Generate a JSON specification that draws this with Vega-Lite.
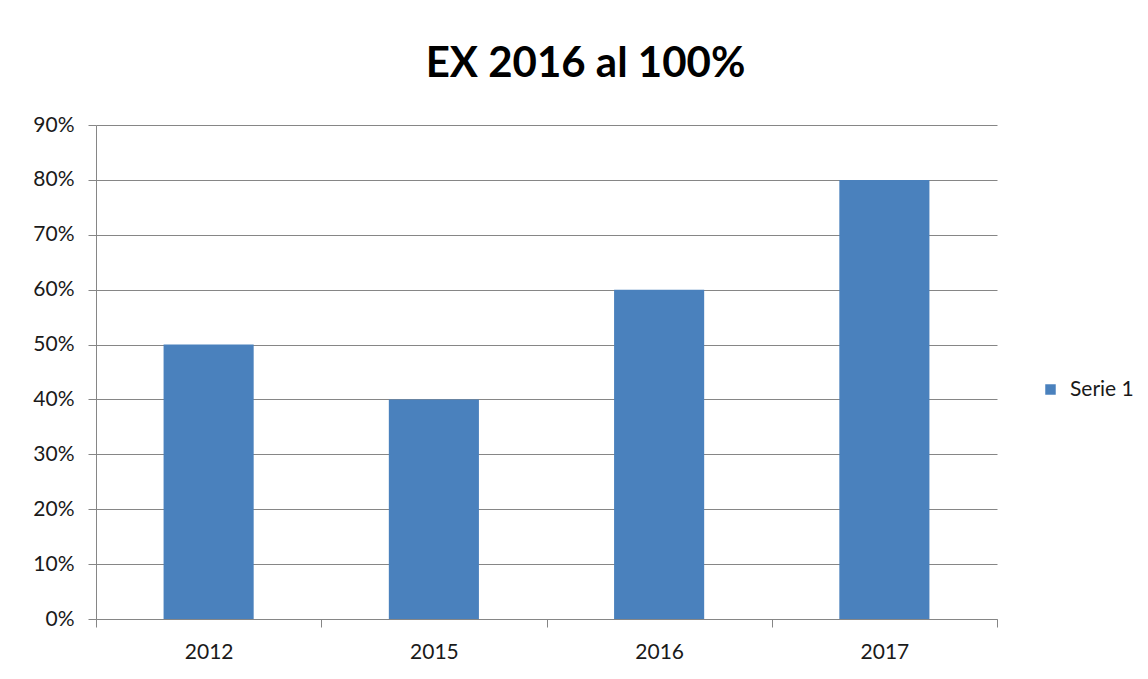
{
  "$schema": "https://vega.github.io/schema/vega-lite/v6.json",
  "width": 901,
  "height": 494,
  "autosize": {"type": "none"},
  "padding": {"left": 96, "top": 125, "right": 151, "bottom": 60},
  "background": "white",
  "title": {
    "text": "EX 2016 al 100%",
    "font": "Lato",
    "fontSize": 42,
    "fontWeight": "bold",
    "color": "black",
    "anchor": "middle",
    "dx": 39,
    "offset": 28
  },
  "data": {
    "values": [
      {"year": "2012", "value": 0.5, "series": "Serie 1"},
      {"year": "2015", "value": 0.4, "series": "Serie 1"},
      {"year": "2016", "value": 0.6, "series": "Serie 1"},
      {"year": "2017", "value": 0.8, "series": "Serie 1"}
    ]
  },
  "mark": {"type": "bar", "width": {"band": 0.4}},
  "encoding": {
    "x": {
      "field": "year",
      "type": "nominal",
      "scale": {"paddingInner": 0, "paddingOuter": 0},
      "axis": {
        "title": null,
        "labelAngle": 0,
        "labelFont": "Lato",
        "labelFontSize": 21,
        "labelColor": "#1a1a1a",
        "labelPadding": 14,
        "tickBand": "extent",
        "tickSize": 8,
        "tickColor": "#868686",
        "domainColor": "#868686",
        "grid": false
      }
    },
    "y": {
      "field": "value",
      "type": "quantitative",
      "scale": {"domain": [0, 0.9], "nice": false},
      "axis": {
        "title": null,
        "format": ".0%",
        "values": [0, 0.1, 0.2, 0.3, 0.4, 0.5, 0.6, 0.7, 0.8, 0.9],
        "labelFont": "Lato",
        "labelFontSize": 21,
        "labelColor": "#1a1a1a",
        "labelPadding": 14,
        "tickSize": 8,
        "tickColor": "#868686",
        "domainColor": "#868686",
        "grid": true,
        "gridColor": "#868686"
      }
    },
    "color": {
      "field": "series",
      "type": "nominal",
      "scale": {"range": ["#4A81BD"]},
      "legend": {
        "title": null,
        "orient": "none",
        "legendX": 944,
        "legendY": 254,
        "symbolType": "square",
        "symbolSize": 110,
        "symbolStrokeWidth": 0,
        "labelFont": "Lato",
        "labelFontSize": 21,
        "labelColor": "#1a1a1a",
        "labelOffset": 9
      }
    }
  },
  "config": {"view": {"stroke": null}}
}
